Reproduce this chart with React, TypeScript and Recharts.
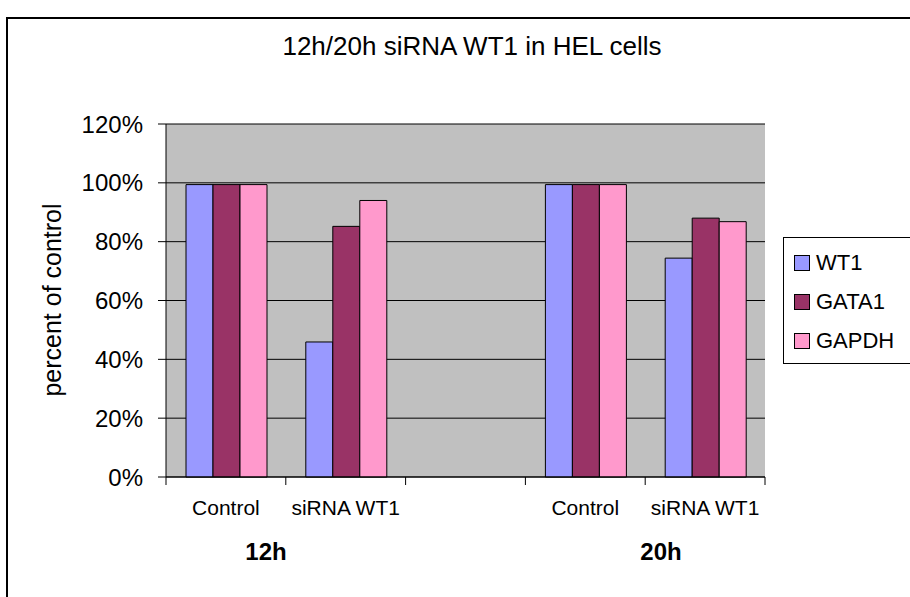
import { Bar, BarChart, CartesianGrid, Legend, XAxis, YAxis } from "recharts"

const font = "Arial, 'Liberation Sans', sans-serif"

// groups on the category axis; the empty slot separates 12h from 20h
const groupKeys = ["c12", "s12", "gap", "c20", "s20"]
const groupLabels = ["Control", "siRNA WT1", "", "Control", "siRNA WT1"]

const seriesNames = ["WT1", "GATA1", "GAPDH"]
const wt1 = [99.4, 45.9, null, 99.4, 74.4]
const gata1 = [99.4, 85.2, null, 99.4, 88.0]
const gapdh = [99.4, 94.0, null, 99.4, 86.8]

const yTicks = [0, 20, 40, 60, 80, 100, 120]

const seriesColors: Record<string, string> = {
  WT1: "#9999FF",
  GATA1: "#993366",
  GAPDH: "#FF99CC",
}

const data = groupKeys.map((key, i) => ({
  key,
  WT1: wt1[i],
  GATA1: gata1[i],
  GAPDH: gapdh[i],
}))

function CategoryTick(props: any) {
  const { x, y, payload, index, visibleTicksCount } = props
  const half = payload.offset ?? 60
  const left = x - half
  return (
    <g>
      <line x1={left} x2={left} y1={y} y2={y + 8} stroke="#000" strokeWidth={1} />
      {index === visibleTicksCount - 1 && (
        <line x1={x + half} x2={x + half} y1={y} y2={y + 8} stroke="#000" strokeWidth={1} />
      )}
      <text x={x} y={y + 38} textAnchor="middle" fontSize={21} fontFamily={font} fill="#000">
        {groupLabels[index]}
      </text>
    </g>
  )
}

function LegendBox(props: any) {
  const payload: any[] = props.payload ?? []
  // keep series order rather than the legend's sorted order
  const items = seriesNames
    .map((name) => payload.find((p) => p.value === name || p.dataKey === name))
    .filter(Boolean)
  return (
    <div
      style={{
        border: "1px solid #000",
        background: "#fff",
        width: 140,
        height: 127,
        boxSizing: "border-box",
        paddingTop: 5,
        paddingLeft: 10,
        fontFamily: font,
        fontSize: 22,
      }}
    >
      {items.map((entry: any) => (
        <div key={entry.value} style={{ display: "flex", alignItems: "center", height: 39 }}>
          <span
            style={{
              display: "inline-block",
              width: 14,
              height: 14,
              background: seriesColors[entry.value] ?? entry.color,
              border: "1px solid #000",
              marginRight: 6,
            }}
          />
          <span>{entry.value}</span>
        </div>
      ))}
    </div>
  )
}

export default function App() {
  return (
    <div style={{ position: "absolute", left: 0, top: 0, width: 910, height: 597, background: "#fff", overflow: "hidden" }}>
      <div
        style={{
          position: "absolute",
          left: 6,
          top: 17,
          width: 1000,
          height: 700,
          border: "2px solid #000",
        }}
      />
      <BarChart
        width={910}
        height={597}
        data={data}
        margin={{ top: 124, right: 145, bottom: 0, left: 0 }}
        barCategoryGap={20}
        barGap={0}
      >
        <CartesianGrid vertical={false} stroke="#000" fill="#C0C0C0" />
        <XAxis
          dataKey="key"
          height={120}
          axisLine={{ stroke: "#000" }}
          tickLine={false}
          tickSize={0}
          tickMargin={0}
          interval={0}
          tick={<CategoryTick />}
        />
        <YAxis
          width={166}
          domain={[0, 120]}
          ticks={yTicks}
          interval={0}
          axisLine={{ stroke: "#000" }}
          tickLine={{ stroke: "#000" }}
          tickSize={8}
          tickMargin={15}
          tickFormatter={(v: number) => `${v}%`}
          tick={{ fontSize: 24, fontFamily: font, fill: "#000" }}
        />
        <YAxis
          yAxisId="edge"
          orientation="right"
          width={0}
          tick={false}
          tickLine={false}
          axisLine={{ stroke: "#808080" }}
        />
        <Legend
          layout="horizontal"
          verticalAlign="middle"
          align="center"
          content={<LegendBox />}
          wrapperStyle={{ left: 783, top: 237, width: 140, height: 127 }}
        />
        {seriesNames.map((name) => (
          <Bar
            key={name}
            dataKey={name}
            fill={seriesColors[name]}
            stroke="#000"
            strokeWidth={1}
            isAnimationActive={false}
          />
        ))}
      </BarChart>
      <div
        style={{
          position: "absolute",
          left: 0,
          top: 30,
          width: 944,
          textAlign: "center",
          fontFamily: font,
          fontSize: 26,
          lineHeight: "32px",
          color: "#000",
        }}
      >
        12h/20h siRNA WT1 in HEL cells
      </div>
      <div
        style={{
          position: "absolute",
          left: 52,
          top: 300,
          transform: "translate(-50%, -50%) rotate(-90deg)",
          whiteSpace: "nowrap",
          fontFamily: font,
          fontSize: 25,
          lineHeight: "30px",
          color: "#000",
        }}
      >
        percent of control
      </div>
      <div
        style={{
          position: "absolute",
          left: 266,
          top: 537,
          transform: "translateX(-50%)",
          fontFamily: font,
          fontSize: 24,
          fontWeight: "bold",
          lineHeight: "30px",
        }}
      >
        12h
      </div>
      <div
        style={{
          position: "absolute",
          left: 661,
          top: 537,
          transform: "translateX(-50%)",
          fontFamily: font,
          fontSize: 24,
          fontWeight: "bold",
          lineHeight: "30px",
        }}
      >
        20h
      </div>
    </div>
  )
}
